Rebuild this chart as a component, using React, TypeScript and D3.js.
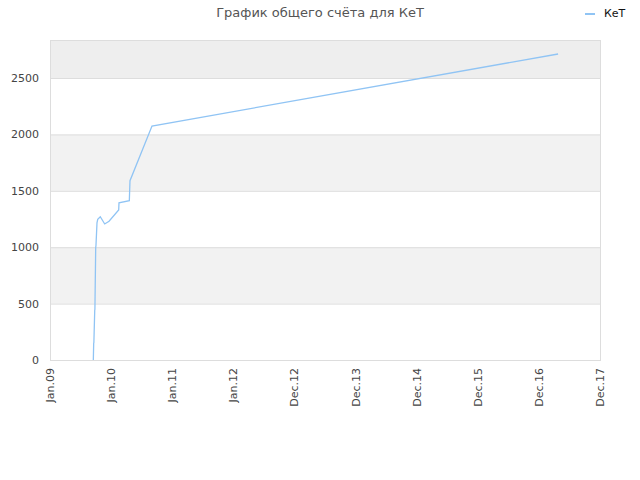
import React from "react";
import * as d3 from "d3";

const xTickLabels = ["Jan.09", "Jan.10", "Jan.11", "Jan.12", "Dec.12", "Dec.13", "Dec.14", "Dec.15", "Dec.16", "Dec.17"];
const yTicks = [0, 500, 1000, 1500, 2000, 2500];
// x position measured in tick intervals from Jan.09
const seriesX = [0.709, 0.715, 0.718, 0.732, 0.735, 0.748, 0.752, 0.769, 0.781, 0.823, 0.895, 0.966, 1.124, 1.129, 1.298, 1.309, 1.669, 8.314];
const seriesY = [0, 150, 155, 440, 450, 1000, 1011, 1215, 1247, 1270, 1206, 1230, 1330, 1394, 1412, 1590, 2074, 2713];
const seriesName = "КеТ";
const title = "График общего счёта для КеТ";

const W = 640, H = 480;
const M = { left: 50, right: 40, top: 40, bottom: 120 };

export default function App() {
  const x = d3.scaleLinear().domain([0, 9]).range([M.left, W - M.right]);
  const y = d3.scaleLinear().domain([0, 2837]).range([H - M.bottom, M.top]);
  const pts = seriesX.map((v, i) => [v, seriesY[i]] as [number, number]);
  const line = d3.line<[number, number]>().x(d => x(d[0])).y(d => y(d[1]));
  const bands: [number, number, string][] = [
    [0, 500, "#ffffff"],
    [500, 1000, "#f2f2f2"],
    [1000, 1500, "#ffffff"],
    [1500, 2000, "#f2f2f2"],
    [2000, 2500, "#ffffff"],
    [2500, 2837, "#eeeeee"],
  ];
  const font = "DejaVu Sans, sans-serif";
  return (
    <svg width={W} height={H} style={{ position: "absolute", left: 0, top: 0 }} fontFamily={font}>
      <rect width={W} height={H} fill="#fff" />
      {bands.map(([a, b, c], i) => (
        <rect key={i} x={M.left} y={y(b)} width={W - M.right - M.left} height={y(a) - y(b)} fill={c} />
      ))}
      {yTicks.map(t => (
        <line key={t} x1={M.left} x2={W - M.right} y1={y(t) + 0.5} y2={y(t) + 0.5} stroke="#dddddd" />
      ))}
      <rect x={M.left + 0.5} y={M.top + 0.5} width={W - M.right - M.left} height={H - M.bottom - M.top} fill="none" stroke="#dddddd" />
      {yTicks.map(t => (
        <text key={t} x={M.left - 11} y={y(t) + 4} textAnchor="end" fontSize={11} fill="#444">{t}</text>
      ))}
      {xTickLabels.map((l, i) => (
        <text key={l} transform={`translate(${x(i) + 4},${H - M.bottom + 8}) rotate(-90)`} textAnchor="end" fontSize={11} fill="#444">{l}</text>
      ))}
      <path d={line(pts) || ""} fill="none" stroke="#90c4f4" strokeWidth={1.3} />
      <text x={320} y={17} textAnchor="middle" fontSize={13} fill="#555">{title}</text>
      <line x1={585} x2={595} y1={14} y2={14} stroke="#90c4f4" strokeWidth={2} />
      <text x={604} y={17} fontSize={11} fill="#111">{seriesName}</text>
    </svg>
  );
}
